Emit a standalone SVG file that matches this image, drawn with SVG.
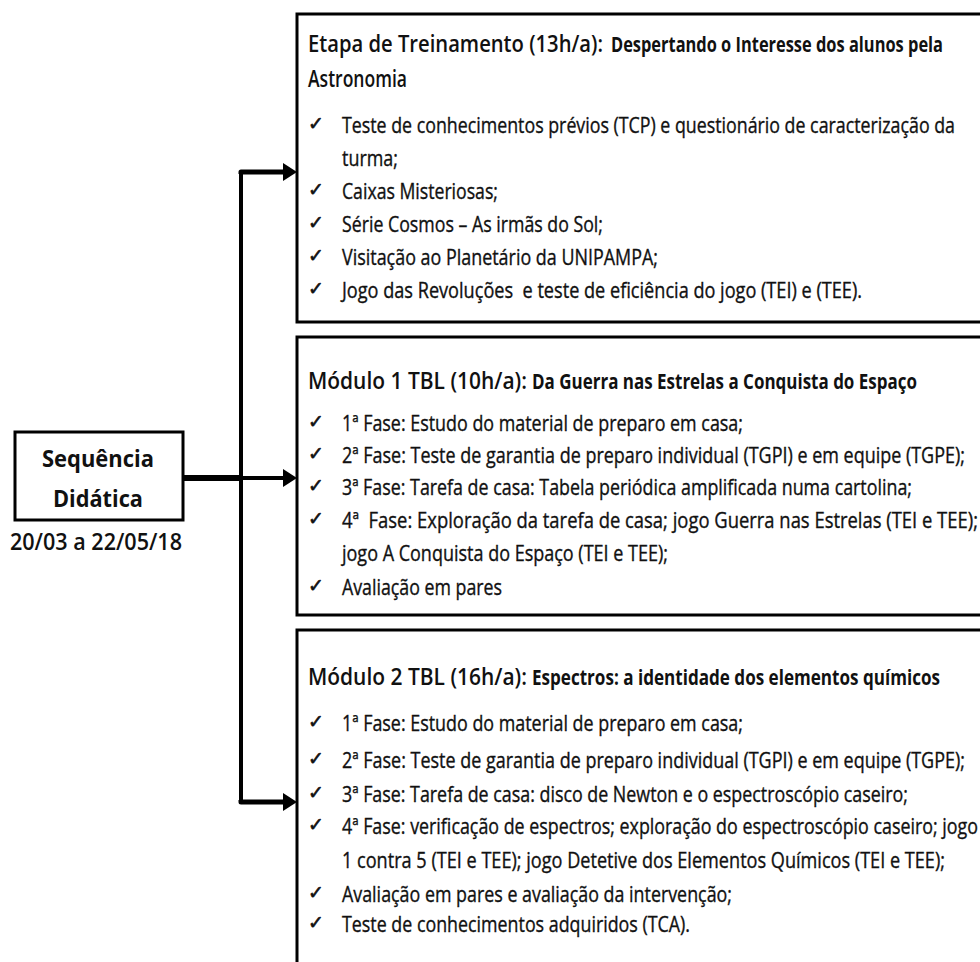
<svg xmlns="http://www.w3.org/2000/svg" width="980" height="962" viewBox="0 0 980 962">
<style>
.bg{fill:#fff;stroke:none}
.edge{fill:none;stroke:#000;stroke-width:3}
.t{font-family:"Open Sans","Liberation Sans",sans-serif;font-size:21px;fill:#111;stroke:#111;stroke-width:0.35}
.h1{font-family:"Open Sans","Liberation Sans",sans-serif;font-size:23px;fill:#111;font-weight:600}
.h2{font-family:"Open Sans","Liberation Sans",sans-serif;font-size:21px;fill:#111;font-weight:700}
.ck{font-family:"DejaVu Sans",sans-serif;font-size:19px;fill:#111;stroke:#111;stroke-width:0.6}
.seq{font-family:"Open Sans","Liberation Sans",sans-serif;font-size:24px;font-weight:700;fill:#111}
.date{font-family:"Open Sans","Liberation Sans",sans-serif;font-size:24px;fill:#111;font-weight:600}
.ln{fill:none;stroke:#000;stroke-linecap:butt;stroke-linejoin:round}
.pre{white-space:pre}
</style>
<rect width="980" height="962" fill="#fff"/>

<g id="connectors">
<line class="ln" x1="183" y1="478" x2="241" y2="478" stroke-width="6"/>
<path class="ln" d="M241,172 L241,802" stroke-width="4"/>
<path class="ln" d="M241,174 L241,172 L284,172" stroke-width="5"/>
<path d="M283,163 L297,172 L283,181 Z" fill="#000"/>
<line class="ln" x1="241" y1="478" x2="284" y2="478" stroke-width="4"/>
<path d="M283,469 L297,478 L283,487 Z" fill="#000"/>
<path class="ln" d="M241,800 L241,802 L284,802" stroke-width="5"/>
<path d="M283,793 L297,802 L283,811 Z" fill="#000"/>
</g>

<g id="node-sequencia">
<rect x="15" y="432" width="168" height="88" fill="#fff" stroke="#000" stroke-width="3"/>
<text class="seq" x="98" y="467" text-anchor="middle" textLength="112" lengthAdjust="spacingAndGlyphs">Sequência</text>
<text class="seq" x="98" y="507" text-anchor="middle" textLength="90" lengthAdjust="spacingAndGlyphs">Didática</text>
<text class="date" x="10" y="550" textLength="172" lengthAdjust="spacingAndGlyphs">20/03 a 22/05/18</text>
</g>

<g id="node-etapa">
<rect class="bg" x="297" y="14" width="683" height="308"/>
<path class="edge" d="M980,14 H297 V322 H980"/>
<text class="ck" x="308" y="130">✓</text>
<text class="ck" x="308" y="196">✓</text>
<text class="ck" x="308" y="229">✓</text>
<text class="ck" x="308" y="262">✓</text>
<text class="ck" x="308" y="295">✓</text>
<g transform="scale(0.8,1)">
<text class="h1" x="385" y="52" textLength="368.75" lengthAdjust="spacingAndGlyphs">Etapa de Treinamento (13h/a):</text>
<text class="h2" x="763.75" y="52" textLength="415" lengthAdjust="spacingAndGlyphs">Despertando o Interesse dos alunos pela</text>
<text class="h1" x="385" y="87" textLength="123.75" lengthAdjust="spacingAndGlyphs">Astronomia</text>
<text class="t" x="427.5" y="133" textLength="766.25" lengthAdjust="spacingAndGlyphs">Teste de conhecimentos prévios (TCP) e questionário de caracterização da</text>
<text class="t" x="427.5" y="166" textLength="70" lengthAdjust="spacingAndGlyphs">turma;</text>
<text class="t" x="427.5" y="199" textLength="195" lengthAdjust="spacingAndGlyphs">Caixas Misteriosas;</text>
<text class="t" x="427.5" y="232" textLength="326.25" lengthAdjust="spacingAndGlyphs">Série Cosmos – As irmãs do Sol;</text>
<text class="t" x="427.5" y="265" textLength="395" lengthAdjust="spacingAndGlyphs">Visitação ao Planetário da UNIPAMPA;</text>
<text class="t pre" x="427.5" y="298" textLength="650" lengthAdjust="spacingAndGlyphs">Jogo das Revoluções  e teste de eficiência do jogo (TEI) e (TEE).</text>
</g>
</g>

<g id="node-modulo1">
<rect class="bg" x="297" y="337" width="683" height="278"/>
<path class="edge" d="M980,337 H297 V615 H980"/>
<text class="ck" x="308" y="428">✓</text>
<text class="ck" x="308" y="460">✓</text>
<text class="ck" x="308" y="492">✓</text>
<text class="ck" x="308" y="525">✓</text>
<text class="ck" x="308" y="592">✓</text>
<g transform="scale(0.8,1)">
<text class="h1" x="385" y="389" textLength="273.75" lengthAdjust="spacingAndGlyphs">Módulo 1 TBL (10h/a):</text>
<text class="h2" x="665" y="389" textLength="481.25" lengthAdjust="spacingAndGlyphs">Da Guerra nas Estrelas a Conquista do Espaço</text>
<text class="t" x="427.5" y="431" textLength="501.25" lengthAdjust="spacingAndGlyphs">1ª Fase: Estudo do material de preparo em casa;</text>
<text class="t" x="427.5" y="463" textLength="778.75" lengthAdjust="spacingAndGlyphs">2ª Fase: Teste de garantia de preparo individual (TGPI) e em equipe (TGPE);</text>
<text class="t" x="427.5" y="495" textLength="712.5" lengthAdjust="spacingAndGlyphs">3ª Fase: Tarefa de casa: Tabela periódica amplificada numa cartolina;</text>
<text class="t pre" x="427.5" y="528" textLength="795" lengthAdjust="spacingAndGlyphs">4ª  Fase: Exploração da tarefa de casa; jogo Guerra nas Estrelas (TEI e TEE);</text>
<text class="t" x="427.5" y="561" textLength="407.5" lengthAdjust="spacingAndGlyphs">jogo A Conquista do Espaço (TEI e TEE);</text>
<text class="t" x="427.5" y="595" textLength="200" lengthAdjust="spacingAndGlyphs">Avaliação em pares</text>
</g>
</g>

<g id="node-modulo2">
<rect class="bg" x="297" y="630" width="683" height="332"/>
<path class="edge" d="M980,630 H297 V962"/>
<text class="ck" x="308" y="728">✓</text>
<text class="ck" x="308" y="765">✓</text>
<text class="ck" x="308" y="799">✓</text>
<text class="ck" x="308" y="831">✓</text>
<text class="ck" x="308" y="899">✓</text>
<text class="ck" x="308" y="929">✓</text>
<g transform="scale(0.8,1)">
<text class="h1" x="385" y="685" textLength="273.75" lengthAdjust="spacingAndGlyphs">Módulo 2 TBL (16h/a):</text>
<text class="h2" x="665" y="685" textLength="510" lengthAdjust="spacingAndGlyphs">Espectros: a identidade dos elementos químicos</text>
<text class="t" x="427.5" y="731" textLength="501.25" lengthAdjust="spacingAndGlyphs">1ª Fase: Estudo do material de preparo em casa;</text>
<text class="t" x="427.5" y="768" textLength="778.75" lengthAdjust="spacingAndGlyphs">2ª Fase: Teste de garantia de preparo individual (TGPI) e em equipe (TGPE);</text>
<text class="t" x="427.5" y="802" textLength="707.5" lengthAdjust="spacingAndGlyphs">3ª Fase: Tarefa de casa: disco de Newton e o espectroscópio caseiro;</text>
<text class="t" x="427.5" y="834" textLength="795" lengthAdjust="spacingAndGlyphs">4ª Fase: verificação de espectros; exploração do espectroscópio caseiro; jogo</text>
<text class="t" x="427.5" y="868" textLength="753.75" lengthAdjust="spacingAndGlyphs">1 contra 5 (TEI e TEE); jogo Detetive dos Elementos Químicos (TEI e TEE);</text>
<text class="t" x="427.5" y="902" textLength="487.5" lengthAdjust="spacingAndGlyphs">Avaliação em pares e avaliação da intervenção;</text>
<text class="t" x="427.5" y="932" textLength="435" lengthAdjust="spacingAndGlyphs">Teste de conhecimentos adquiridos (TCA).</text>
</g>
</g>
</svg>
